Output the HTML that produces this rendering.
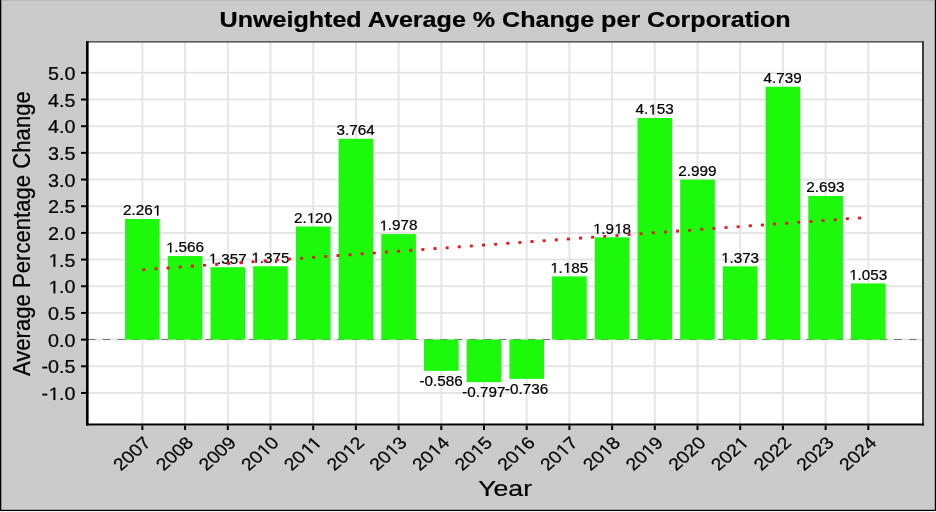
<!DOCTYPE html><html><head><meta charset="utf-8"><style>html,body{margin:0;padding:0;background:#cbcbcb;}svg{display:block;will-change:transform}text{font-family:"Liberation Sans", sans-serif;fill:#000;stroke:#000;stroke-width:0.22px}tspan.h{fill:transparent;stroke:transparent}path.g{fill:#000;stroke:#000;stroke-width:0.22px;vector-effect:non-scaling-stroke}</style></head><body>
<svg width="936" height="512" viewBox="0 0 936 512">
<rect x="0" y="0" width="936" height="512" fill="#cbcbcb"/>
<rect x="0" y="0" width="936" height="1" fill="#b9b9b9"/>
<rect x="0" y="0" width="1.3" height="511" fill="#000"/>
<rect x="934.8" y="0" width="1.2" height="511" fill="#000"/>
<rect x="0" y="509.8" width="936" height="1.2" fill="#000"/>
<rect x="0" y="511" width="936" height="1" fill="#f4f4f4"/>
<rect x="86" y="41" width="838" height="384.5" fill="#fff"/>
<line x1="86" x2="924" y1="392.95" y2="392.95" stroke="#e5e5e5" stroke-width="2"/>
<line x1="86" x2="924" y1="366.28" y2="366.28" stroke="#e5e5e5" stroke-width="2"/>
<line x1="86" x2="924" y1="339.60" y2="339.60" stroke="#e5e5e5" stroke-width="2"/>
<line x1="86" x2="924" y1="312.93" y2="312.93" stroke="#e5e5e5" stroke-width="2"/>
<line x1="86" x2="924" y1="286.25" y2="286.25" stroke="#e5e5e5" stroke-width="2"/>
<line x1="86" x2="924" y1="259.58" y2="259.58" stroke="#e5e5e5" stroke-width="2"/>
<line x1="86" x2="924" y1="232.90" y2="232.90" stroke="#e5e5e5" stroke-width="2"/>
<line x1="86" x2="924" y1="206.23" y2="206.23" stroke="#e5e5e5" stroke-width="2"/>
<line x1="86" x2="924" y1="179.55" y2="179.55" stroke="#e5e5e5" stroke-width="2"/>
<line x1="86" x2="924" y1="152.88" y2="152.88" stroke="#e5e5e5" stroke-width="2"/>
<line x1="86" x2="924" y1="126.20" y2="126.20" stroke="#e5e5e5" stroke-width="2"/>
<line x1="86" x2="924" y1="99.53" y2="99.53" stroke="#e5e5e5" stroke-width="2"/>
<line x1="86" x2="924" y1="72.85" y2="72.85" stroke="#e5e5e5" stroke-width="2"/>
<line x1="142.40" x2="142.40" y1="41" y2="425.5" stroke="#e5e5e5" stroke-width="2"/>
<line x1="185.10" x2="185.10" y1="41" y2="425.5" stroke="#e5e5e5" stroke-width="2"/>
<line x1="227.80" x2="227.80" y1="41" y2="425.5" stroke="#e5e5e5" stroke-width="2"/>
<line x1="270.50" x2="270.50" y1="41" y2="425.5" stroke="#e5e5e5" stroke-width="2"/>
<line x1="313.20" x2="313.20" y1="41" y2="425.5" stroke="#e5e5e5" stroke-width="2"/>
<line x1="355.90" x2="355.90" y1="41" y2="425.5" stroke="#e5e5e5" stroke-width="2"/>
<line x1="398.60" x2="398.60" y1="41" y2="425.5" stroke="#e5e5e5" stroke-width="2"/>
<line x1="441.30" x2="441.30" y1="41" y2="425.5" stroke="#e5e5e5" stroke-width="2"/>
<line x1="484.00" x2="484.00" y1="41" y2="425.5" stroke="#e5e5e5" stroke-width="2"/>
<line x1="526.70" x2="526.70" y1="41" y2="425.5" stroke="#e5e5e5" stroke-width="2"/>
<line x1="569.40" x2="569.40" y1="41" y2="425.5" stroke="#e5e5e5" stroke-width="2"/>
<line x1="612.10" x2="612.10" y1="41" y2="425.5" stroke="#e5e5e5" stroke-width="2"/>
<line x1="654.80" x2="654.80" y1="41" y2="425.5" stroke="#e5e5e5" stroke-width="2"/>
<line x1="697.50" x2="697.50" y1="41" y2="425.5" stroke="#e5e5e5" stroke-width="2"/>
<line x1="740.20" x2="740.20" y1="41" y2="425.5" stroke="#e5e5e5" stroke-width="2"/>
<line x1="782.90" x2="782.90" y1="41" y2="425.5" stroke="#e5e5e5" stroke-width="2"/>
<line x1="825.60" x2="825.60" y1="41" y2="425.5" stroke="#e5e5e5" stroke-width="2"/>
<line x1="868.30" x2="868.30" y1="41" y2="425.5" stroke="#e5e5e5" stroke-width="2"/>
<line x1="88.0" x2="924" y1="339.5" y2="339.5" stroke="#7a7a7a" stroke-width="1.1" stroke-dasharray="7.6 7.06"/>
<rect x="125.10" y="218.98" width="34.6" height="120.62" fill="#1cf90a"/>
<rect x="167.80" y="256.05" width="34.6" height="83.55" fill="#1cf90a"/>
<rect x="210.50" y="267.20" width="34.6" height="72.40" fill="#1cf90a"/>
<rect x="253.20" y="266.24" width="34.6" height="73.36" fill="#1cf90a"/>
<rect x="295.90" y="226.50" width="34.6" height="113.10" fill="#1cf90a"/>
<rect x="338.60" y="138.79" width="34.6" height="200.81" fill="#1cf90a"/>
<rect x="381.30" y="234.07" width="34.6" height="105.53" fill="#1cf90a"/>
<rect x="424.00" y="339.60" width="34.6" height="31.26" fill="#1cf90a"/>
<rect x="466.70" y="339.60" width="34.6" height="42.52" fill="#1cf90a"/>
<rect x="509.40" y="339.60" width="34.6" height="39.27" fill="#1cf90a"/>
<rect x="552.10" y="276.38" width="34.6" height="63.22" fill="#1cf90a"/>
<rect x="594.80" y="237.27" width="34.6" height="102.33" fill="#1cf90a"/>
<rect x="637.50" y="118.04" width="34.6" height="221.56" fill="#1cf90a"/>
<rect x="680.20" y="179.60" width="34.6" height="160.00" fill="#1cf90a"/>
<rect x="722.90" y="266.35" width="34.6" height="73.25" fill="#1cf90a"/>
<rect x="765.60" y="86.77" width="34.6" height="252.83" fill="#1cf90a"/>
<rect x="808.30" y="195.93" width="34.6" height="143.67" fill="#1cf90a"/>
<rect x="851.00" y="283.42" width="34.6" height="56.18" fill="#1cf90a"/>
<text transform="translate(142.20,215.38) scale(1.075,1)" font-size="14.2" text-anchor="middle">2.26<tspan class="h">1</tspan></text>
<path class="g" transform="translate(142.20,215.38) scale(1.075,1) scale(0.00693359)" d="M1986.8 0 1986.8 -1237 1668.8 -1010 1668.8 -1180 2001.8 -1409 2167.8 -1409 2167.8 0Z"/>
<text transform="translate(184.90,252.45) scale(1.075,1)" font-size="14.2" text-anchor="middle"><tspan class="h">1</tspan>.566</text>
<path class="g" transform="translate(184.90,252.45) scale(1.075,1) scale(0.00693359)" d="M-1996.4 0 -1996.4 -1237 -2314.4 -1010 -2314.4 -1180 -1981.4 -1409 -1815.4 -1409 -1815.4 0Z"/>
<text transform="translate(227.60,263.60) scale(1.075,1)" font-size="14.2" text-anchor="middle"><tspan class="h">1</tspan>.357</text>
<path class="g" transform="translate(227.60,263.60) scale(1.075,1) scale(0.00693359)" d="M-1996.4 0 -1996.4 -1237 -2314.4 -1010 -2314.4 -1180 -1981.4 -1409 -1815.4 -1409 -1815.4 0Z"/>
<text transform="translate(270.30,262.64) scale(1.075,1)" font-size="14.2" text-anchor="middle"><tspan class="h">1</tspan>.375</text>
<path class="g" transform="translate(270.30,262.64) scale(1.075,1) scale(0.00693359)" d="M-1996.4 0 -1996.4 -1237 -2314.4 -1010 -2314.4 -1180 -1981.4 -1409 -1815.4 -1409 -1815.4 0Z"/>
<text transform="translate(313.00,222.90) scale(1.075,1)" font-size="14.2" text-anchor="middle">2.<tspan class="h">1</tspan>20</text>
<path class="g" transform="translate(313.00,222.90) scale(1.075,1) scale(0.00693359)" d="M-290.2 0 -290.2 -1237 -608.2 -1010 -608.2 -1180 -275.2 -1409 -109.2 -1409 -109.2 0Z"/>
<text transform="translate(355.70,135.19) scale(1.075,1)" font-size="14.2" text-anchor="middle">3.764</text>
<text transform="translate(398.40,230.47) scale(1.075,1)" font-size="14.2" text-anchor="middle"><tspan class="h">1</tspan>.978</text>
<path class="g" transform="translate(398.40,230.47) scale(1.075,1) scale(0.00693359)" d="M-1996.4 0 -1996.4 -1237 -2314.4 -1010 -2314.4 -1180 -1981.4 -1409 -1815.4 -1409 -1815.4 0Z"/>
<text transform="translate(441.10,385.75) scale(1.075,1)" font-size="14.2" text-anchor="middle">-0.586</text>
<text transform="translate(483.80,397.00) scale(1.075,1)" font-size="14.2" text-anchor="middle">-0.797</text>
<text transform="translate(526.50,393.75) scale(1.075,1)" font-size="14.2" text-anchor="middle">-0.736</text>
<text transform="translate(569.20,272.78) scale(1.075,1)" font-size="14.2" text-anchor="middle"><tspan class="h">1</tspan>.<tspan class="h">1</tspan>85</text>
<path class="g" transform="translate(569.20,272.78) scale(1.075,1) scale(0.00693359)" d="M-1996.4 0 -1996.4 -1237 -2314.4 -1010 -2314.4 -1180 -1981.4 -1409 -1815.4 -1409 -1815.4 0ZM-290.2 0 -290.2 -1237 -608.2 -1010 -608.2 -1180 -275.2 -1409 -109.2 -1409 -109.2 0Z"/>
<text transform="translate(611.90,233.67) scale(1.075,1)" font-size="14.2" text-anchor="middle"><tspan class="h">1</tspan>.9<tspan class="h">1</tspan>8</text>
<path class="g" transform="translate(611.90,233.67) scale(1.075,1) scale(0.00693359)" d="M-1996.4 0 -1996.4 -1237 -2314.4 -1010 -2314.4 -1180 -1981.4 -1409 -1815.4 -1409 -1815.4 0ZM847.2 0 847.2 -1237 529.2 -1010 529.2 -1180 862.2 -1409 1028.2 -1409 1028.2 0Z"/>
<text transform="translate(654.60,114.44) scale(1.075,1)" font-size="14.2" text-anchor="middle">4.<tspan class="h">1</tspan>53</text>
<path class="g" transform="translate(654.60,114.44) scale(1.075,1) scale(0.00693359)" d="M-290.2 0 -290.2 -1237 -608.2 -1010 -608.2 -1180 -275.2 -1409 -109.2 -1409 -109.2 0Z"/>
<text transform="translate(697.30,176.00) scale(1.075,1)" font-size="14.2" text-anchor="middle">2.999</text>
<text transform="translate(740.00,262.75) scale(1.075,1)" font-size="14.2" text-anchor="middle"><tspan class="h">1</tspan>.373</text>
<path class="g" transform="translate(740.00,262.75) scale(1.075,1) scale(0.00693359)" d="M-1996.4 0 -1996.4 -1237 -2314.4 -1010 -2314.4 -1180 -1981.4 -1409 -1815.4 -1409 -1815.4 0Z"/>
<text transform="translate(782.70,83.17) scale(1.075,1)" font-size="14.2" text-anchor="middle">4.739</text>
<text transform="translate(825.40,192.33) scale(1.075,1)" font-size="14.2" text-anchor="middle">2.693</text>
<text transform="translate(868.10,279.82) scale(1.075,1)" font-size="14.2" text-anchor="middle"><tspan class="h">1</tspan>.053</text>
<path class="g" transform="translate(868.10,279.82) scale(1.075,1) scale(0.00693359)" d="M-1996.4 0 -1996.4 -1237 -2314.4 -1010 -2314.4 -1180 -1981.4 -1409 -1815.4 -1409 -1815.4 0Z"/>
<line x1="142.40" y1="269.74" x2="868.30" y2="217.31" stroke="#e8141e" stroke-width="2.8" stroke-dasharray="3.0 9.16"/>
<rect x="86" y="41" width="838" height="1.6" fill="#5a5a5a"/>
<rect x="922" y="41" width="2" height="384.5" fill="#3e3e3e"/>
<rect x="86" y="423.5" width="838" height="2" fill="#000"/>
<rect x="86" y="41" width="2.6" height="384.5" fill="#000"/>
<line x1="81" x2="86" y1="392.95" y2="392.95" stroke="#000" stroke-width="2"/>
<text transform="translate(75.45,400.00) scale(1.10,1)" font-size="17.9" text-anchor="end">-<tspan class="h">1</tspan>.0</text>
<path class="g" transform="translate(75.45,400.00) scale(1.10,1) scale(0.00874023)" d="M-2280.2 0 -2280.2 -1237 -2598.2 -1010 -2598.2 -1180 -2265.2 -1409 -2099.2 -1409 -2099.2 0Z"/>
<line x1="81" x2="86" y1="366.28" y2="366.28" stroke="#000" stroke-width="2"/>
<text transform="translate(75.45,373.33) scale(1.10,1)" font-size="17.9" text-anchor="end">-0.5</text>
<line x1="81" x2="86" y1="339.60" y2="339.60" stroke="#000" stroke-width="2"/>
<text transform="translate(75.45,346.65) scale(1.10,1)" font-size="17.9" text-anchor="end">0.0</text>
<line x1="81" x2="86" y1="312.93" y2="312.93" stroke="#000" stroke-width="2"/>
<text transform="translate(75.45,319.98) scale(1.10,1)" font-size="17.9" text-anchor="end">0.5</text>
<line x1="81" x2="86" y1="286.25" y2="286.25" stroke="#000" stroke-width="2"/>
<text transform="translate(75.45,293.30) scale(1.10,1)" font-size="17.9" text-anchor="end"><tspan class="h">1</tspan>.0</text>
<path class="g" transform="translate(75.45,293.30) scale(1.10,1) scale(0.00874023)" d="M-2280.2 0 -2280.2 -1237 -2598.2 -1010 -2598.2 -1180 -2265.2 -1409 -2099.2 -1409 -2099.2 0Z"/>
<line x1="81" x2="86" y1="259.58" y2="259.58" stroke="#000" stroke-width="2"/>
<text transform="translate(75.45,266.63) scale(1.10,1)" font-size="17.9" text-anchor="end"><tspan class="h">1</tspan>.5</text>
<path class="g" transform="translate(75.45,266.63) scale(1.10,1) scale(0.00874023)" d="M-2280.2 0 -2280.2 -1237 -2598.2 -1010 -2598.2 -1180 -2265.2 -1409 -2099.2 -1409 -2099.2 0Z"/>
<line x1="81" x2="86" y1="232.90" y2="232.90" stroke="#000" stroke-width="2"/>
<text transform="translate(75.45,239.95) scale(1.10,1)" font-size="17.9" text-anchor="end">2.0</text>
<line x1="81" x2="86" y1="206.23" y2="206.23" stroke="#000" stroke-width="2"/>
<text transform="translate(75.45,213.28) scale(1.10,1)" font-size="17.9" text-anchor="end">2.5</text>
<line x1="81" x2="86" y1="179.55" y2="179.55" stroke="#000" stroke-width="2"/>
<text transform="translate(75.45,186.60) scale(1.10,1)" font-size="17.9" text-anchor="end">3.0</text>
<line x1="81" x2="86" y1="152.88" y2="152.88" stroke="#000" stroke-width="2"/>
<text transform="translate(75.45,159.93) scale(1.10,1)" font-size="17.9" text-anchor="end">3.5</text>
<line x1="81" x2="86" y1="126.20" y2="126.20" stroke="#000" stroke-width="2"/>
<text transform="translate(75.45,133.25) scale(1.10,1)" font-size="17.9" text-anchor="end">4.0</text>
<line x1="81" x2="86" y1="99.53" y2="99.53" stroke="#000" stroke-width="2"/>
<text transform="translate(75.45,106.58) scale(1.10,1)" font-size="17.9" text-anchor="end">4.5</text>
<line x1="81" x2="86" y1="72.85" y2="72.85" stroke="#000" stroke-width="2"/>
<text transform="translate(75.45,79.90) scale(1.10,1)" font-size="17.9" text-anchor="end">5.0</text>
<line x1="142.40" x2="142.40" y1="425.5" y2="430" stroke="#000" stroke-width="2"/>
<text transform="translate(141.90,435.00) scale(1,0.8977) rotate(-45) scale(1.032,1)" font-size="19" text-anchor="end" dominant-baseline="hanging">2007</text>
<line x1="185.10" x2="185.10" y1="425.5" y2="430" stroke="#000" stroke-width="2"/>
<text transform="translate(184.60,435.00) scale(1,0.8977) rotate(-45) scale(1.032,1)" font-size="19" text-anchor="end" dominant-baseline="hanging">2008</text>
<line x1="227.80" x2="227.80" y1="425.5" y2="430" stroke="#000" stroke-width="2"/>
<text transform="translate(227.30,435.00) scale(1,0.8977) rotate(-45) scale(1.032,1)" font-size="19" text-anchor="end" dominant-baseline="hanging">2009</text>
<line x1="270.50" x2="270.50" y1="425.5" y2="430" stroke="#000" stroke-width="2"/>
<text transform="translate(270.00,435.00) scale(1,0.8977) rotate(-45) scale(1.032,1)" font-size="19" text-anchor="end" dominant-baseline="hanging">20<tspan class="h">1</tspan>0</text>
<path class="g" transform="translate(270.00,435.00) scale(1,0.8977) rotate(-45) scale(1.032,1) scale(0.00927734)" d="M-1713.1 1515.5 -1713.1 278.5 -2031.1 505.5 -2031.1 335.5 -1698.1 106.5 -1532.1 106.5 -1532.1 1515.5Z"/>
<line x1="313.20" x2="313.20" y1="425.5" y2="430" stroke="#000" stroke-width="2"/>
<text transform="translate(312.70,435.00) scale(1,0.8977) rotate(-45) scale(1.032,1)" font-size="19" text-anchor="end" dominant-baseline="hanging">20<tspan class="h">1</tspan><tspan class="h">1</tspan></text>
<path class="g" transform="translate(312.70,435.00) scale(1,0.8977) rotate(-45) scale(1.032,1) scale(0.00927734)" d="M-1561.3 1515.5 -1561.3 278.5 -1879.3 505.5 -1879.3 335.5 -1546.3 106.5 -1380.3 106.5 -1380.3 1515.5ZM-575.8 1515.5 -575.8 278.5 -893.8 505.5 -893.8 335.5 -560.8 106.5 -394.8 106.5 -394.8 1515.5Z"/>
<line x1="355.90" x2="355.90" y1="425.5" y2="430" stroke="#000" stroke-width="2"/>
<text transform="translate(355.40,435.00) scale(1,0.8977) rotate(-45) scale(1.032,1)" font-size="19" text-anchor="end" dominant-baseline="hanging">20<tspan class="h">1</tspan>2</text>
<path class="g" transform="translate(355.40,435.00) scale(1,0.8977) rotate(-45) scale(1.032,1) scale(0.00927734)" d="M-1713.1 1515.5 -1713.1 278.5 -2031.1 505.5 -2031.1 335.5 -1698.1 106.5 -1532.1 106.5 -1532.1 1515.5Z"/>
<line x1="398.60" x2="398.60" y1="425.5" y2="430" stroke="#000" stroke-width="2"/>
<text transform="translate(398.10,435.00) scale(1,0.8977) rotate(-45) scale(1.032,1)" font-size="19" text-anchor="end" dominant-baseline="hanging">20<tspan class="h">1</tspan>3</text>
<path class="g" transform="translate(398.10,435.00) scale(1,0.8977) rotate(-45) scale(1.032,1) scale(0.00927734)" d="M-1713.1 1515.5 -1713.1 278.5 -2031.1 505.5 -2031.1 335.5 -1698.1 106.5 -1532.1 106.5 -1532.1 1515.5Z"/>
<line x1="441.30" x2="441.30" y1="425.5" y2="430" stroke="#000" stroke-width="2"/>
<text transform="translate(440.80,435.00) scale(1,0.8977) rotate(-45) scale(1.032,1)" font-size="19" text-anchor="end" dominant-baseline="hanging">20<tspan class="h">1</tspan>4</text>
<path class="g" transform="translate(440.80,435.00) scale(1,0.8977) rotate(-45) scale(1.032,1) scale(0.00927734)" d="M-1713.1 1515.5 -1713.1 278.5 -2031.1 505.5 -2031.1 335.5 -1698.1 106.5 -1532.1 106.5 -1532.1 1515.5Z"/>
<line x1="484.00" x2="484.00" y1="425.5" y2="430" stroke="#000" stroke-width="2"/>
<text transform="translate(483.50,435.00) scale(1,0.8977) rotate(-45) scale(1.032,1)" font-size="19" text-anchor="end" dominant-baseline="hanging">20<tspan class="h">1</tspan>5</text>
<path class="g" transform="translate(483.50,435.00) scale(1,0.8977) rotate(-45) scale(1.032,1) scale(0.00927734)" d="M-1713.1 1515.5 -1713.1 278.5 -2031.1 505.5 -2031.1 335.5 -1698.1 106.5 -1532.1 106.5 -1532.1 1515.5Z"/>
<line x1="526.70" x2="526.70" y1="425.5" y2="430" stroke="#000" stroke-width="2"/>
<text transform="translate(526.20,435.00) scale(1,0.8977) rotate(-45) scale(1.032,1)" font-size="19" text-anchor="end" dominant-baseline="hanging">20<tspan class="h">1</tspan>6</text>
<path class="g" transform="translate(526.20,435.00) scale(1,0.8977) rotate(-45) scale(1.032,1) scale(0.00927734)" d="M-1713.1 1515.5 -1713.1 278.5 -2031.1 505.5 -2031.1 335.5 -1698.1 106.5 -1532.1 106.5 -1532.1 1515.5Z"/>
<line x1="569.40" x2="569.40" y1="425.5" y2="430" stroke="#000" stroke-width="2"/>
<text transform="translate(568.90,435.00) scale(1,0.8977) rotate(-45) scale(1.032,1)" font-size="19" text-anchor="end" dominant-baseline="hanging">20<tspan class="h">1</tspan>7</text>
<path class="g" transform="translate(568.90,435.00) scale(1,0.8977) rotate(-45) scale(1.032,1) scale(0.00927734)" d="M-1713.1 1515.5 -1713.1 278.5 -2031.1 505.5 -2031.1 335.5 -1698.1 106.5 -1532.1 106.5 -1532.1 1515.5Z"/>
<line x1="612.10" x2="612.10" y1="425.5" y2="430" stroke="#000" stroke-width="2"/>
<text transform="translate(611.60,435.00) scale(1,0.8977) rotate(-45) scale(1.032,1)" font-size="19" text-anchor="end" dominant-baseline="hanging">20<tspan class="h">1</tspan>8</text>
<path class="g" transform="translate(611.60,435.00) scale(1,0.8977) rotate(-45) scale(1.032,1) scale(0.00927734)" d="M-1713.1 1515.5 -1713.1 278.5 -2031.1 505.5 -2031.1 335.5 -1698.1 106.5 -1532.1 106.5 -1532.1 1515.5Z"/>
<line x1="654.80" x2="654.80" y1="425.5" y2="430" stroke="#000" stroke-width="2"/>
<text transform="translate(654.30,435.00) scale(1,0.8977) rotate(-45) scale(1.032,1)" font-size="19" text-anchor="end" dominant-baseline="hanging">20<tspan class="h">1</tspan>9</text>
<path class="g" transform="translate(654.30,435.00) scale(1,0.8977) rotate(-45) scale(1.032,1) scale(0.00927734)" d="M-1713.1 1515.5 -1713.1 278.5 -2031.1 505.5 -2031.1 335.5 -1698.1 106.5 -1532.1 106.5 -1532.1 1515.5Z"/>
<line x1="697.50" x2="697.50" y1="425.5" y2="430" stroke="#000" stroke-width="2"/>
<text transform="translate(697.00,435.00) scale(1,0.8977) rotate(-45) scale(1.032,1)" font-size="19" text-anchor="end" dominant-baseline="hanging">2020</text>
<line x1="740.20" x2="740.20" y1="425.5" y2="430" stroke="#000" stroke-width="2"/>
<text transform="translate(739.70,435.00) scale(1,0.8977) rotate(-45) scale(1.032,1)" font-size="19" text-anchor="end" dominant-baseline="hanging">202<tspan class="h">1</tspan></text>
<path class="g" transform="translate(739.70,435.00) scale(1,0.8977) rotate(-45) scale(1.032,1) scale(0.00927734)" d="M-574 1515.5 -574 278.5 -892 505.5 -892 335.5 -559 106.5 -393 106.5 -393 1515.5Z"/>
<line x1="782.90" x2="782.90" y1="425.5" y2="430" stroke="#000" stroke-width="2"/>
<text transform="translate(782.40,435.00) scale(1,0.8977) rotate(-45) scale(1.032,1)" font-size="19" text-anchor="end" dominant-baseline="hanging">2022</text>
<line x1="825.60" x2="825.60" y1="425.5" y2="430" stroke="#000" stroke-width="2"/>
<text transform="translate(825.10,435.00) scale(1,0.8977) rotate(-45) scale(1.032,1)" font-size="19" text-anchor="end" dominant-baseline="hanging">2023</text>
<line x1="868.30" x2="868.30" y1="425.5" y2="430" stroke="#000" stroke-width="2"/>
<text transform="translate(867.80,435.00) scale(1,0.8977) rotate(-45) scale(1.032,1)" font-size="19" text-anchor="end" dominant-baseline="hanging">2024</text>
<text transform="translate(505.1,495.8) scale(1.223,1)" font-size="21.8" text-anchor="middle">Year</text>
<text transform="translate(30,233.65) rotate(-90) scale(1,1.067)" font-size="22.13" text-anchor="middle">Average Percentage Change</text>
<text transform="translate(505.1,26.6) scale(1.157,1)" font-size="21.7" text-anchor="middle" font-weight="bold">Unweighted Average % Change per Corporation</text>
</svg></body></html>
